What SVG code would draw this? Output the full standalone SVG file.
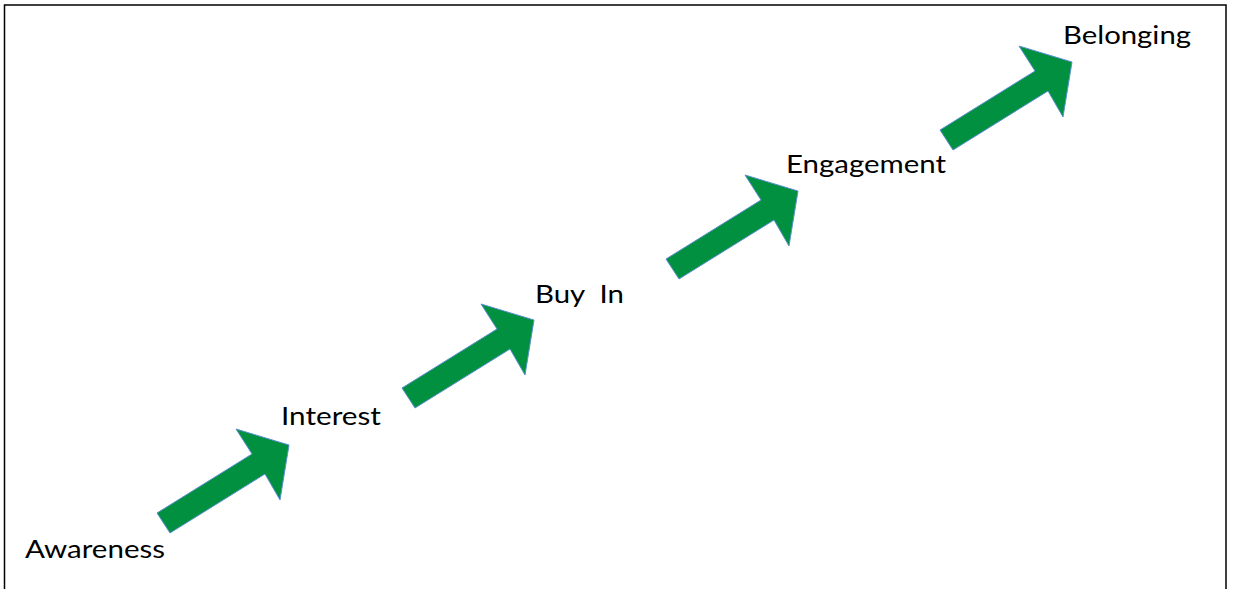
<svg xmlns="http://www.w3.org/2000/svg" width="1233" height="589" viewBox="0 0 1233 589">
<style>
.lbl{font-family:Lato,"Open Sans","Liberation Sans",sans-serif;font-size:25px;fill:#000}
.arr{fill:#00903f;stroke:#5b8fd0;stroke-width:1}
</style>
<defs>
<polygon id="arrowShape" points="-132,68 -37,9 -53,-16 0,0 -9,55 -24,29 -119,88"/>
</defs>
<rect x="4.5" y="5" width="1221.5" height="600" fill="#fff" stroke="#000" stroke-width="1.5"/>
<g id="connectors">
<use href="#arrowShape" class="arr" transform="translate(289,445)"/>
<use href="#arrowShape" class="arr" transform="translate(534,320)"/>
<use href="#arrowShape" class="arr" transform="translate(798,191)"/>
<use href="#arrowShape" class="arr" transform="translate(1072,62)"/>
</g>
<g id="awareness"><text class="lbl" x="25" y="558" textLength="140" lengthAdjust="spacingAndGlyphs">Awareness</text></g>
<g id="interest"><text class="lbl" x="281" y="425" textLength="100" lengthAdjust="spacingAndGlyphs">Interest</text></g>
<g id="buyin"><text class="lbl" x="535" y="303" textLength="89" lengthAdjust="spacingAndGlyphs" xml:space="preserve">Buy  In</text></g>
<g id="engagement"><text class="lbl" x="786" y="173" textLength="160" lengthAdjust="spacingAndGlyphs">Engagement</text></g>
<g id="belonging"><text class="lbl" x="1063" y="44" textLength="128" lengthAdjust="spacingAndGlyphs">Belonging</text></g>
</svg>
